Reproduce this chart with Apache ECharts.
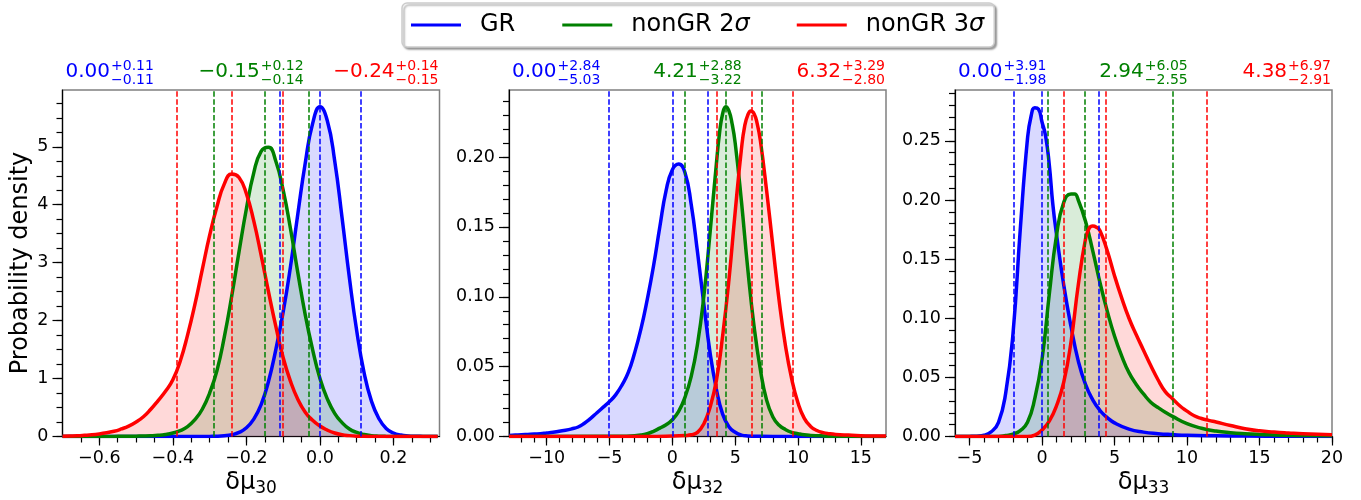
<!DOCTYPE html>
<html>
<head>
<meta charset="utf-8">
<script src="https://cdn.jsdelivr.net/npm/echarts@6/dist/echarts.min.js"></script>
<style>
html,body{margin:0;padding:0;background:#fff;}
#chart{width:1361px;height:500px;}
</style>
</head>
<body>
<div id="chart"></div>
<script>
// ---------------- DATA ----------------
const seriesNames = ['GR', 'nonGR 2σ', 'nonGR 3σ'];
const colors = ['#0000ff', '#008000', '#ff0000'];
const subscripts = ['30', '32', '33'];

// Panel 1 (δμ30): common x grid
const p1X = [-0.70,-0.68,-0.66,-0.64,-0.62,-0.60,-0.58,-0.56,-0.54,-0.52,-0.50,-0.48,-0.46,-0.44,-0.42,-0.40,-0.38,-0.36,-0.34,-0.32,
  -0.30,-0.28,-0.26,-0.24,-0.22,-0.20,-0.18,-0.16,-0.14,-0.12,-0.10,-0.08,-0.06,-0.04,-0.02,0.00,
  0.02,0.04,0.06,0.08,0.10,0.12,0.14,0.16,0.18,0.20,0.22,0.24,0.26,0.28,0.30,0.32];
const p1GR = [0,0,0,0,0,0,0,0,0,0,0,0,0,0,0,0,0,0,0,0,
  0.002,0.004,0.012,0.03,0.07,0.15,0.30,0.55,0.95,1.5,2.15,2.94,3.85,4.72,5.40,5.69,
  5.45,4.76,3.78,2.74,1.82,1.10,0.61,0.31,0.14,0.06,0.025,0.01,0.004,0.002,0.001,0];
const p1NG2 = [0,0,0,0,0.001,0.001,0.002,0.002,0.003,0.004,0.006,0.008,0.012,0.02,0.035,0.06,0.10,0.17,0.29,0.47,
  0.75,1.14,1.72,2.42,3.19,3.93,4.55,4.92,4.99,4.75,4.25,3.58,2.82,2.10,1.50,1.00,
  0.65,0.40,0.24,0.13,0.07,0.035,0.015,0.006,0.002,0.001,0,0,0,0,0,0];
const p1NG3 = [0.005,0.008,0.012,0.02,0.03,0.045,0.065,0.09,0.13,0.18,0.25,0.34,0.47,0.62,0.78,0.98,1.30,1.75,2.28,2.88,
  3.47,3.97,4.36,4.53,4.47,4.19,3.72,3.13,2.50,1.90,1.36,0.95,0.64,0.42,0.28,0.18,
  0.11,0.06,0.03,0.015,0.006,0.003,0.001,0,0,0,0,0,0,0,0,0];

// Panel 2 (δμ32): [x, density]
const p2GR = [[-13,0.0008],[-12.5,0.001],[-12,0.0012],[-11.5,0.0015],[-11,0.0018],[-10.5,0.002],[-10,0.0025],[-9.5,0.003],[-9,0.0038],[-8.5,0.0045],[-8,0.0055],[-7.5,0.0068],[-7,0.0095],[-6.5,0.013],[-6,0.017],[-5.5,0.021],[-5,0.025],[-4.5,0.030],[-4,0.037],[-3.5,0.046],[-3,0.060],[-2.5,0.077],[-2,0.098],[-1.5,0.122],[-1,0.150],[-0.5,0.176],[0,0.191],[0.5,0.195],[1,0.189],[1.5,0.166],[2,0.132],[2.5,0.095],[3,0.060],[3.5,0.034],[4,0.016],[4.5,0.007],[5,0.003],[5.5,0.001],[6,0.0004],[7,0.0001],[8,0],[17,0]];
const p2NG2 = [[-13,0],[-4,0.0002],[-3,0.0006],[-2.5,0.001],[-2,0.002],[-1.5,0.0037],[-1,0.006],[-0.5,0.0084],[0,0.012],[0.5,0.018],[1,0.028],[1.5,0.043],[2,0.066],[2.5,0.100],[3,0.146],[3.5,0.195],[3.75,0.217],[4,0.231],[4.25,0.236],[4.5,0.233],[4.75,0.224],[5,0.210],[5.5,0.168],[6,0.120],[6.5,0.079],[7,0.048],[7.5,0.026],[8,0.014],[8.5,0.008],[9,0.005],[9.5,0.003],[10,0.002],[10.5,0.0012],[11,0.0008],[12,0.0004],[13,0.0002],[14,0.0001],[17,0]];
const p2NG3 = [[-13,0],[-2,0],[0,0.0003],[1,0.0007],[1.5,0.0012],[2,0.003],[2.5,0.009],[3,0.021],[3.5,0.040],[4,0.072],[4.5,0.112],[5,0.161],[5.5,0.206],[5.75,0.222],[6,0.230],[6.25,0.233],[6.5,0.231],[6.75,0.224],[7,0.212],[7.5,0.176],[8,0.136],[8.5,0.097],[9,0.065],[9.5,0.041],[10,0.024],[10.5,0.013],[11,0.0072],[11.5,0.0043],[12,0.0028],[12.5,0.002],[13,0.0015],[14,0.001],[15,0.0006],[16,0.0004],[17,0.0003]];

// Panel 3 (δμ33): [x, density]
const p3GR = [[-6,0],[-5,0.0001],[-4.5,0.0003],[-4,0.001],[-3.5,0.004],[-3,0.012],[-2.5,0.037],[-2,0.087],[-1.5,0.175],[-1,0.252],[-0.75,0.271],[-0.5,0.278],[-0.25,0.277],[0,0.266],[0.25,0.254],[0.5,0.230],[0.75,0.196],[1,0.171],[1.5,0.128],[2,0.093],[2.5,0.064],[3,0.044],[3.5,0.031],[4,0.022],[4.5,0.016],[5,0.0115],[6,0.0062],[7,0.0037],[8,0.0024],[9,0.0016],[10,0.001],[12,0.0006],[14,0.0004],[17,0.0002],[20,0.0001]];
const p3NG2 = [[-6,0],[-3,0],[-2.5,0.0008],[-2,0.002],[-1.5,0.005],[-1,0.012],[-0.5,0.032],[0,0.065],[0.5,0.120],[1,0.170],[1.5,0.198],[2,0.205],[2.25,0.205],[2.5,0.200],[3,0.182],[3.5,0.157],[4,0.130],[4.5,0.106],[5,0.085],[5.5,0.068],[6,0.054],[6.5,0.044],[7,0.036],[7.5,0.029],[8,0.0245],[8.5,0.0205],[9,0.017],[10,0.0108],[11,0.007],[12,0.0046],[13,0.0032],[14,0.0023],[15,0.0017],[16,0.0013],[17,0.001],[18,0.0008],[20,0.0006]];
const p3NG3 = [[-6,0],[-1,0],[-0.5,0.0012],[0,0.0055],[0.5,0.013],[1,0.026],[1.5,0.046],[2,0.080],[2.5,0.128],[3,0.167],[3.25,0.176],[3.5,0.178],[3.75,0.177],[4,0.174],[4.5,0.157],[5,0.136],[5.5,0.117],[6,0.100],[6.5,0.086],[7,0.073],[7.5,0.060],[8,0.048],[8.5,0.038],[9,0.032],[9.5,0.026],[10,0.0215],[10.5,0.0175],[11,0.0152],[11.5,0.0136],[12,0.0122],[13,0.0093],[14,0.0066],[15,0.0048],[16,0.0038],[17,0.003],[18,0.0023],[20,0.0014]];

// Medians and credible-interval errors (GR, nonGR 2σ, nonGR 3σ)
const p1Median = [0.00, -0.15, -0.24], p1Plus = [0.11, 0.12, 0.14], p1Minus = [0.11, 0.14, 0.15];
const p2Median = [0.00, 4.21, 6.32],  p2Plus = [2.84, 2.88, 3.29], p2Minus = [5.03, 3.22, 2.80];
const p3Median = [0.00, 2.94, 4.38],  p3Plus = [3.91, 6.05, 6.97], p3Minus = [1.98, 2.55, 2.91];

// Axis ranges and tick values
const p1XRange = [-0.70, 0.325], p1YMax = 5.98;
const p2XRange = [-13, 17],      p2YMax = 0.248;
const p3XRange = [-6, 20],       p3YMax = 0.293;
const p1XMajor = [-0.6, -0.4, -0.2, 0, 0.2];
const p1XMinor = [-0.65,-0.6,-0.55,-0.5,-0.45,-0.4,-0.35,-0.3,-0.25,-0.2,-0.15,-0.1,-0.05,0,0.05,0.1,0.15,0.2,0.25,0.3];
const p2XMajor = [-10, -5, 0, 5, 10, 15];
const p2XMinor = [-12,-11,-10,-9,-8,-7,-6,-5,-4,-3,-2,-1,0,1,2,3,4,5,6,7,8,9,10,11,12,13,14,15,16];
const p3XMajor = [-5, 0, 5, 10, 15, 20];
const p3XMinor = [-5,-4,-3,-2,-1,0,1,2,3,4,5,6,7,8,9,10,11,12,13,14,15,16,17,18,19,20];
const p1YMajor = [0, 1, 2, 3, 4, 5];
const p1YMinor = [0,0.25,0.5,0.75,1,1.25,1.5,1.75,2,2.25,2.5,2.75,3,3.25,3.5,3.75,4,4.25,4.5,4.75,5,5.25,5.5,5.75];
const p2YMajor = [0, 0.05, 0.10, 0.15, 0.20];
const p2YMinor = [0,0.01,0.02,0.03,0.04,0.05,0.06,0.07,0.08,0.09,0.10,0.11,0.12,0.13,0.14,0.15,0.16,0.17,0.18,0.19,0.20,0.21,0.22,0.23,0.24];
const p3YMajor = [0, 0.05, 0.10, 0.15, 0.20, 0.25];
const p3YMinor = [0,0.01,0.02,0.03,0.04,0.05,0.06,0.07,0.08,0.09,0.10,0.11,0.12,0.13,0.14,0.15,0.16,0.17,0.18,0.19,0.20,0.21,0.22,0.23,0.24,0.25,0.26,0.27,0.28,0.29];

// ---------------- LAYOUT ----------------
const FONT = 'DejaVu Sans';
const GRID_LEFT = [62.5, 509, 955];
const GRID_W = 377, GRID_TOP = 90, GRID_H = 346.5;

const panels = [
  { curves: [p1X.map((x,i)=>[x,p1GR[i]]), p1X.map((x,i)=>[x,p1NG2[i]]), p1X.map((x,i)=>[x,p1NG3[i]])],
    med: p1Median, plus: p1Plus, minus: p1Minus, xr: p1XRange, ymax: p1YMax,
    xMaj: p1XMajor, xMin: p1XMinor, yMaj: p1YMajor, yMin: p1YMinor, xDec: 1, yDec: 0 },
  { curves: [p2GR, p2NG2, p2NG3], med: p2Median, plus: p2Plus, minus: p2Minus, xr: p2XRange, ymax: p2YMax,
    xMaj: p2XMajor, xMin: p2XMinor, yMaj: p2YMajor, yMin: p2YMinor, xDec: 0, yDec: 2 },
  { curves: [p3GR, p3NG2, p3NG3], med: p3Median, plus: p3Plus, minus: p3Minus, xr: p3XRange, ymax: p3YMax,
    xMaj: p3XMajor, xMin: p3XMinor, yMaj: p3YMajor, yMin: p3YMinor, xDec: 0, yDec: 2 }
];

function fmt(v, d) {
  const s = Math.abs(v).toFixed(d);
  return (v < 0 && parseFloat(s) !== 0 ? '\u2212' : '') + s;
}
const mctx = document.createElement('canvas').getContext('2d');
function tw(t, size, style) {
  mctx.font = (style ? style + ' ' : '') + size + 'px "' + FONT + '"';
  return mctx.measureText(t).width;
}

const grids = [], xAxes = [], yAxes = [], series = [], graphics = [];
const tickStyle = { color: '#000', width: 1.2 };

panels.forEach((p, i) => {
  grids.push({ left: GRID_LEFT[i], top: GRID_TOP, width: GRID_W, height: GRID_H,
    show: true, borderColor: '#808080', borderWidth: 1.5, backgroundColor: 'transparent' });
  // major x axis
  xAxes.push({ type: 'value', gridIndex: i, position: 'bottom', min: p.xr[0], max: p.xr[1],
    axisLine: { show: true, onZero: false, lineStyle: { color: '#000', width: 1.2 } },
    axisTick: { show: true, length: 9, customValues: p.xMaj, lineStyle: tickStyle },
    axisLabel: { show: true, customValues: p.xMaj, margin: 13, fontSize: 17.5, fontFamily: FONT, color: '#000',
      formatter: v => fmt(v, p.xDec) },
    splitLine: { show: false } });
  // minor x axis
  xAxes.push({ type: 'value', gridIndex: i, position: 'bottom', min: p.xr[0], max: p.xr[1],
    axisLine: { show: false, onZero: false }, axisTick: { show: true, length: 6, customValues: p.xMin, lineStyle: tickStyle },
    axisLabel: { show: false }, splitLine: { show: false } });
  yAxes.push({ type: 'value', gridIndex: i, position: 'left', min: 0, max: p.ymax,
    axisLine: { show: true, onZero: false, lineStyle: { color: '#000', width: 1.2 } },
    axisTick: { show: true, length: 10, customValues: p.yMaj, lineStyle: tickStyle },
    axisLabel: { show: true, customValues: p.yMaj, margin: 14, fontSize: 17.5, fontFamily: FONT, color: '#000',
      formatter: v => fmt(v, p.yDec) },
    splitLine: { show: false } });
  yAxes.push({ type: 'value', gridIndex: i, position: 'left', offset: 0, min: 0, max: p.ymax,
    axisLine: { show: false, onZero: false }, axisTick: { show: true, length: 6, customValues: p.yMin, lineStyle: tickStyle },
    axisLabel: { show: false }, splitLine: { show: false } });

  p.curves.forEach((data, k) => {
    series.push({
      name: seriesNames[k], type: 'line', xAxisIndex: 2 * i, yAxisIndex: 2 * i,
      data: data, showSymbol: false, symbol: 'none', smooth: 0.5,
      color: colors[k], itemStyle: { color: colors[k] },
      lineStyle: { color: colors[k], width: 3.5, join: 'round' },
      areaStyle: { color: colors[k], opacity: 0.15 },
      markLine: {
        silent: true, symbol: 'none', label: { show: false }, animation: false,
        lineStyle: { color: colors[k], width: 1.5, type: [5.5, 2.4] },
        data: [{ xAxis: p.med[k] - p.minus[k] }, { xAxis: p.med[k] }, { xAxis: p.med[k] + p.plus[k] }]
      }
    });
    // annotation above the panel
    const main = fmt(p.med[k], 2), sup = '+' + p.plus[k].toFixed(2), sub = '\u2212' + p.minus[k].toFixed(2);
    const wm = tw(main, 20), ws = Math.max(tw(sup, 14), tw(sub, 14));
    const total = wm + ws + 1;
    const gl = GRID_LEFT[i];
    let x0;
    if (k === 0) x0 = gl + 3;
    else if (k === 1) x0 = gl + GRID_W / 2 - total / 2;
    else x0 = gl + GRID_W - total - 1;
    graphics.push({ type: 'text', x: x0, y: 72.2, style: { text: main, font: '20px "' + FONT + '"', fill: colors[k], align: 'left', verticalAlign: 'middle', textAlign: 'left', textVerticalAlign: 'middle' } });
    graphics.push({ type: 'text', x: x0 + wm + 1, y: 66.2, style: { text: sup, font: '14px "' + FONT + '"', fill: colors[k], align: 'left', verticalAlign: 'middle', textAlign: 'left', textVerticalAlign: 'middle' } });
    graphics.push({ type: 'text', x: x0 + wm + 1, y: 80.3, style: { text: sub, font: '14px "' + FONT + '"', fill: colors[k], align: 'left', verticalAlign: 'middle', textAlign: 'left', textVerticalAlign: 'middle' } });
  });

  // x-axis label δμ_xx
  const wA = tw('δμ', 24), wB = tw(subscripts[i], 17);
  const cx = GRID_LEFT[i] + GRID_W / 2;
  const sx = cx - (wA + wB) / 2;
  graphics.push({ type: 'text', x: sx, y: 483, style: { text: 'δμ', font: '24px "' + FONT + '"', fill: '#000', align: 'left', verticalAlign: 'middle', textAlign: 'left', textVerticalAlign: 'middle' } });
  graphics.push({ type: 'text', x: sx + wA, y: 489, style: { text: subscripts[i], font: '17px "' + FONT + '"', fill: '#000', align: 'left', verticalAlign: 'middle', textAlign: 'left', textVerticalAlign: 'middle' } });
});

// y-axis title
graphics.push({ type: 'text', x: 21, y: 263, rotation: Math.PI / 2,
  style: { text: 'Probability density', font: '24px "' + FONT + '"', fill: '#000', align: 'center', verticalAlign: 'middle', textAlign: 'center', textVerticalAlign: 'middle' } });

const chart = echarts.init(document.getElementById('chart'), null, { renderer: 'canvas' });
chart.setOption({
  animation: false,
  backgroundColor: '#ffffff',
  legend: {
    data: seriesNames, left: 402, top: 3, orient: 'horizontal',
    icon: 'rect', itemWidth: 50, itemHeight: 3, itemGap: 47,
    padding: [10, 10, 10, 9],
    backgroundColor: '#ffffff', borderColor: '#cccccc', borderWidth: 1.5, borderRadius: 5,
    shadowColor: 'rgba(0,0,0,0.35)', shadowBlur: 2, shadowOffsetX: 2, shadowOffsetY: 2,
    selectedMode: false,
    formatter: name => {
      if (name.indexOf('σ') >= 0) return '{s|}{t|' + name.replace('σ', '') + '}{i|σ}';
      return '{s|}{t|' + name + '}';
    },
    textStyle: {
      rich: {
        s: { width: 14 },
        t: { fontSize: 24, fontFamily: FONT, color: '#000' },
        i: { fontSize: 24, fontFamily: FONT, fontStyle: 'italic', color: '#000' }
      }
    }
  },
  grid: grids, xAxis: xAxes, yAxis: yAxes, series: series, graphic: graphics
});
</script>
</body>
</html>
